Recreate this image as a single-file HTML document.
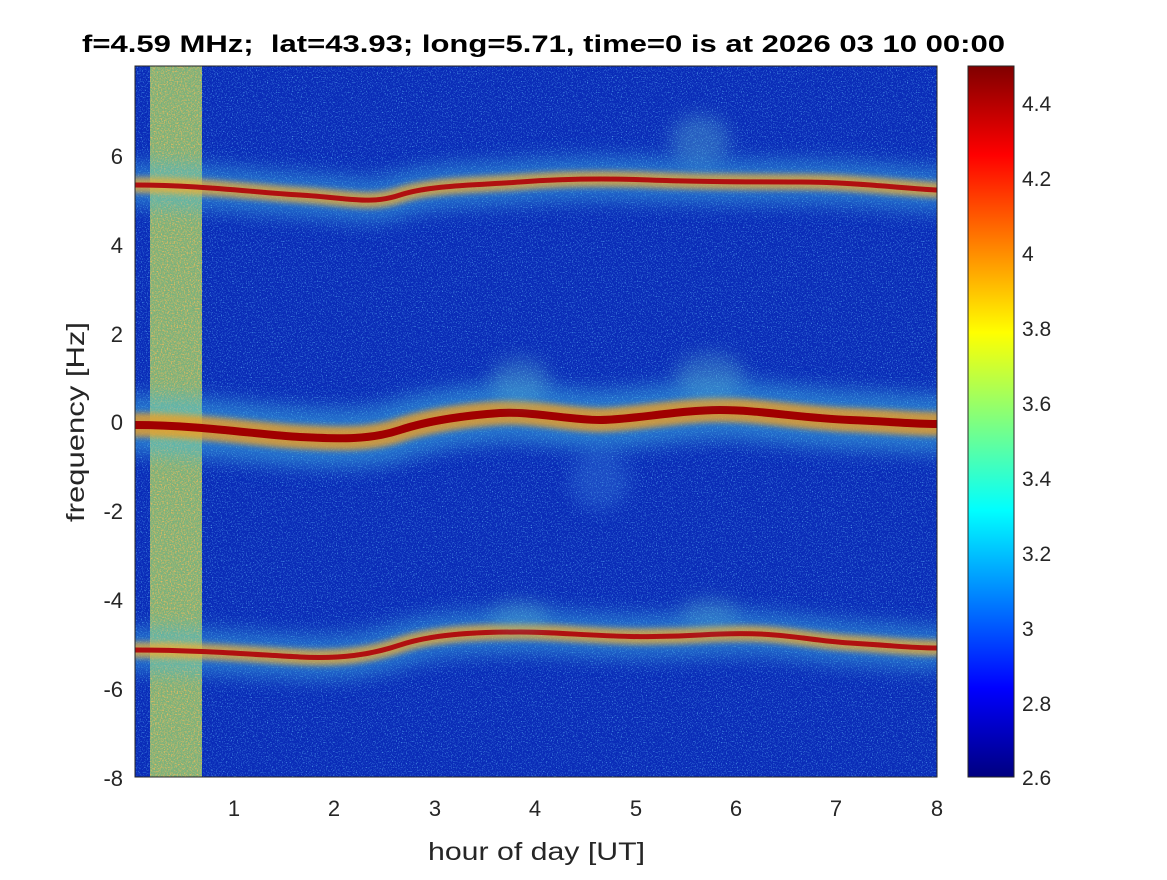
<!DOCTYPE html>
<html><head><meta charset="utf-8"><style>
body{margin:0;background:#fff;width:1167px;height:875px;overflow:hidden;font-family:"Liberation Sans",sans-serif}
</style></head><body>
<svg width="1167" height="875" xmlns="http://www.w3.org/2000/svg" font-family="Liberation Sans, sans-serif">
<defs>
<linearGradient id="jet" x1="0" y1="1" x2="0" y2="0">
<stop offset="0" stop-color="#000080"/><stop offset="0.125" stop-color="#0000ff"/>
<stop offset="0.375" stop-color="#00ffff"/><stop offset="0.625" stop-color="#ffff00"/>
<stop offset="0.875" stop-color="#ff0000"/><stop offset="1" stop-color="#800000"/>
</linearGradient>
<filter id="b8" filterUnits="userSpaceOnUse" x="0" y="0" width="1167" height="875"><feGaussianBlur stdDeviation="9"/></filter>
<filter id="b4" filterUnits="userSpaceOnUse" x="0" y="0" width="1167" height="875"><feGaussianBlur stdDeviation="3"/></filter>
<filter id="noise" filterUnits="userSpaceOnUse" x="135" y="66" width="802" height="711">
<feTurbulence type="fractalNoise" baseFrequency="0.8" numOctaves="2" seed="3"/>
<feColorMatrix type="matrix" values="0 0 0 0 0.15  0 0 0 0 0.6  0 0 0 0 1  0 0 0 3.2 -1.75"/>
</filter>
<filter id="noise2" filterUnits="userSpaceOnUse" x="135" y="66" width="802" height="711">
<feTurbulence type="fractalNoise" baseFrequency="0.7" numOctaves="2" seed="9"/>
<feColorMatrix type="matrix" values="0 0 0 0 0.95  0 0 0 0 0.5  0 0 0 0 0.1  0 0 0 3 -1.4"/>
</filter>
<clipPath id="cp"><rect x="135" y="66" width="802" height="711"/></clipPath>
<clipPath id="cs"><rect x="150" y="66" width="52" height="711"/></clipPath>
</defs>
<g clip-path="url(#cp)">
<rect x="135" y="66" width="802" height="711" fill="#0a2cb8"/>
<rect x="135" y="66" width="802" height="711" filter="url(#noise)" opacity="0.75"/>
<rect x="150" y="66" width="52" height="711" fill="#90c870" opacity="0.85"/>
<g clip-path="url(#cs)"><rect x="135" y="66" width="802" height="711" filter="url(#noise2)" opacity="0.9"/></g>
<g fill="none" stroke-linecap="round">
<path d="M135 185 C200 185 250 192 300 195 S370 205 400 195 S480 185 520 182 S600 178 650 180 S750 182 800 182 S900 188 937 190" stroke="#40b8e0" stroke-width="46" opacity="0.45" filter="url(#b8)"/>
<path d="M135 185 C200 185 250 192 300 195 S370 205 400 195 S480 185 520 182 S600 178 650 180 S750 182 800 182 S900 188 937 190" stroke="#f0b030" stroke-width="16" opacity="0.75" filter="url(#b4)"/>
<path d="M135 185 C200 185 250 192 300 195 S370 205 400 195 S480 185 520 182 S600 178 650 180 S750 182 800 182 S900 188 937 190" stroke="#b01010" stroke-width="5"/>
<path d="M135 425 C200 425 260 435 300 437 S370 440 400 430 S470 415 500 413 S570 420 600 420 S680 410 720 410 S800 418 850 420 S910 424 937 424" stroke="#40b8e0" stroke-width="60" opacity="0.5" filter="url(#b8)"/>
<path d="M135 425 C200 425 260 435 300 437 S370 440 400 430 S470 415 500 413 S570 420 600 420 S680 410 720 410 S800 418 850 420 S910 424 937 424" stroke="#f0a020" stroke-width="24" opacity="0.8" filter="url(#b4)"/>
<path d="M135 425 C200 425 260 435 300 437 S370 440 400 430 S470 415 500 413 S570 420 600 420 S680 410 720 410 S800 418 850 420 S910 424 937 424" stroke="#a00000" stroke-width="8"/>
<path d="M135 650 C200 650 260 655 300 657 S370 655 400 645 S470 632 520 632 S620 640 700 635 S800 640 850 643 S910 648 937 648" stroke="#40b8e0" stroke-width="46" opacity="0.45" filter="url(#b8)"/>
<path d="M135 650 C200 650 260 655 300 657 S370 655 400 645 S470 632 520 632 S620 640 700 635 S800 640 850 643 S910 648 937 648" stroke="#f0b030" stroke-width="16" opacity="0.75" filter="url(#b4)"/>
<path d="M135 650 C200 650 260 655 300 657 S370 655 400 645 S470 632 520 632 S620 640 700 635 S800 640 850 643 S910 648 937 648" stroke="#b01010" stroke-width="5"/>
</g>
<ellipse cx="700" cy="140" rx="30" ry="25" fill="#60c0d0" opacity="0.35" filter="url(#b8)"/>
<ellipse cx="520" cy="380" rx="30" ry="22" fill="#60c0d0" opacity="0.35" filter="url(#b8)"/>
<ellipse cx="710" cy="375" rx="35" ry="22" fill="#60c0d0" opacity="0.35" filter="url(#b8)"/>
<ellipse cx="520" cy="615" rx="30" ry="15" fill="#60c0d0" opacity="0.3" filter="url(#b8)"/>
<ellipse cx="710" cy="612" rx="30" ry="15" fill="#60c0d0" opacity="0.3" filter="url(#b8)"/>
<ellipse cx="600" cy="480" rx="30" ry="30" fill="#4090e0" opacity="0.3" filter="url(#b8)"/>
</g>
<rect x="135" y="66" width="802" height="711" fill="none" stroke="#262626" stroke-width="1"/>
<g font-size="22" fill="#262626" text-anchor="middle">
<text x="234" y="816">1</text><text x="334" y="816">2</text><text x="435" y="816">3</text><text x="535" y="816">4</text>
<text x="636" y="816">5</text><text x="736" y="816">6</text><text x="836" y="816">7</text><text x="937" y="816">8</text>
</g>
<g font-size="22" fill="#262626" text-anchor="end">
<text x="123" y="164">6</text><text x="123" y="253">4</text><text x="123" y="342">2</text><text x="123" y="430">0</text>
<text x="123" y="519">-2</text><text x="123" y="608">-4</text><text x="123" y="697">-6</text><text x="123" y="786">-8</text>
</g>
<text x="428" y="860" font-size="25" fill="#262626" textLength="217" lengthAdjust="spacingAndGlyphs">hour of day [UT]</text>
<text transform="translate(84,522) rotate(-90)" font-size="25" fill="#262626" textLength="200" lengthAdjust="spacingAndGlyphs">frequency [Hz]</text>
<text x="82" y="52" font-size="24" font-weight="bold" fill="#000" textLength="923" lengthAdjust="spacingAndGlyphs" xml:space="preserve">f=4.59 MHz;  lat=43.93; long=5.71, time=0 is at 2026 03 10 00:00</text>
<rect x="968" y="66" width="46" height="711" fill="url(#jet)" stroke="#262626" stroke-width="1"/>
<g font-size="21" fill="#262626">
<text x="1022" y="111">4.4</text><text x="1022" y="186">4.2</text><text x="1022" y="261">4</text><text x="1022" y="336">3.8</text>
<text x="1022" y="411">3.6</text><text x="1022" y="486">3.4</text><text x="1022" y="561">3.2</text><text x="1022" y="636">3</text>
<text x="1022" y="711">2.8</text><text x="1022" y="785">2.6</text>
</g>
</svg>
</body></html>
